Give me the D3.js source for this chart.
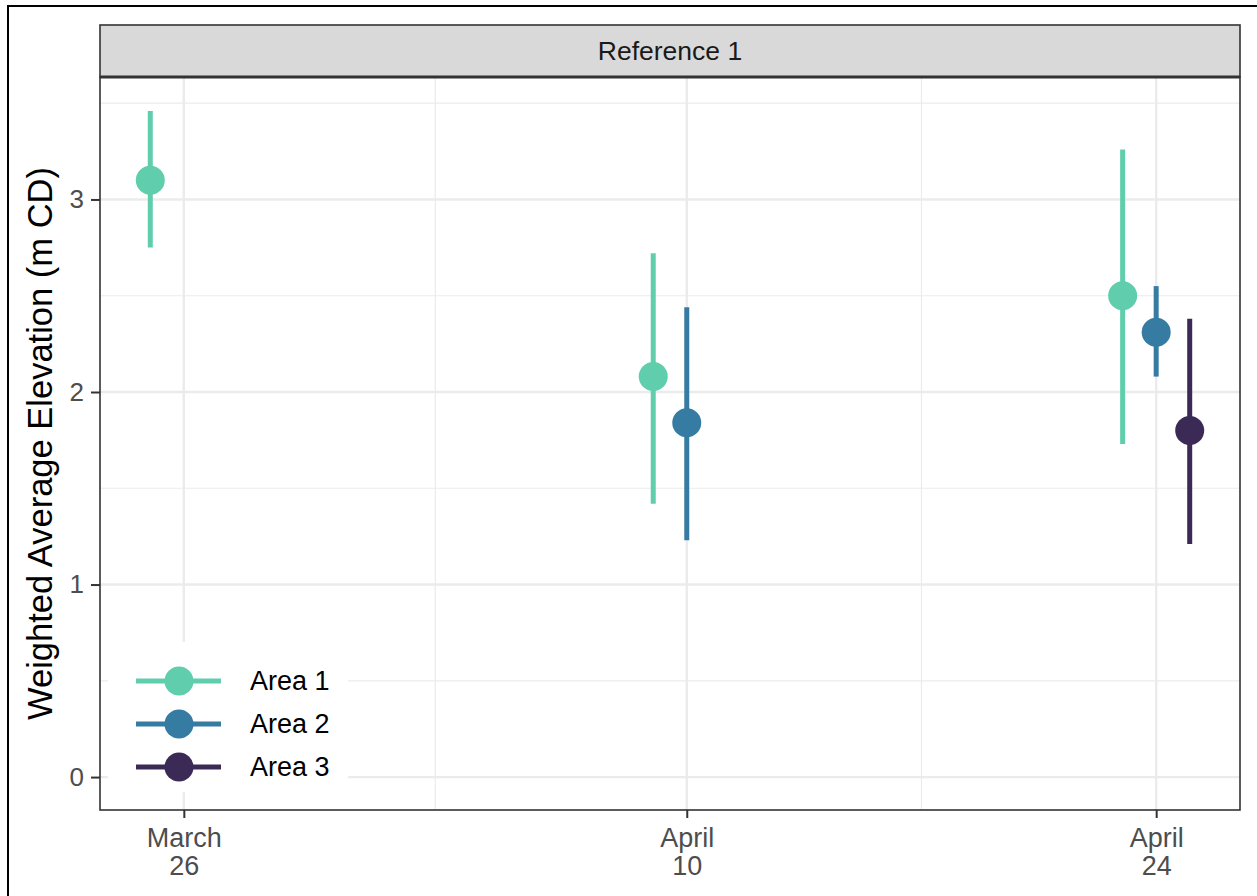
<!DOCTYPE html>
<html>
<head>
<meta charset="utf-8">
<script src="https://cdn.jsdelivr.net/npm/d3@7"></script>
<style>
  body { margin: 0; background: #fff; }
  svg { display: block; font-family: "Liberation Sans", Arial, sans-serif; }
</style>
</head>
<body>
<svg id="chart" width="1257" height="896"></svg>
<script>
"use strict";

// survey dates and tick labels
const dates = ["2021-03-26", "2021-04-10", "2021-04-24"];
const dateLabels = [["March", "26"], ["April", "10"], ["April", "24"]];
const areas = ["Area 1", "Area 2", "Area 3"];
const areaColors = ["#60CEAC", "#357BA2", "#3B2A55"];

// weighted average elevation (m CD) with lower / upper bounds, per area
const area1Mean = [3.10, 2.08, 2.50];
const area1Low = [2.75, 1.42, 1.73];
const area1High = [3.46, 2.72, 3.26];

const area2Mean = [null, 1.84, 2.31];
const area2Low = [null, 1.23, 2.08];
const area2High = [null, 2.44, 2.55];

const area3Mean = [null, null, 1.80];
const area3Low = [null, null, 1.21];
const area3High = [null, null, 2.38];

const yTicks = [0, 1, 2, 3];
const yMinor = [0.5, 1.5, 2.5, 3.5];

const parseDay = d3.timeParse("%Y-%m-%d");

const series = [
    { mean: area1Mean, low: area1Low, high: area1High },
    { mean: area2Mean, low: area2Low, high: area2High },
    { mean: area3Mean, low: area3Low, high: area3High }
];

// flatten into rows, dodging each area by one day
const rows = [];
series.forEach(function (s, k) {
    dates.forEach(function (d, i) {
        if (s.mean[i] == null) { return; }
        rows.push({
            area: k,
            date: d3.timeDay.offset(parseDay(d), k - 1),
            mean: s.mean[i],
            low: s.low[i],
            high: s.high[i]
        });
    });
});

const svg = d3.select("#chart");

const panel = { left: 100, right: 1240, top: 77, bottom: 810 };

const x = d3.scaleTime()
    .domain([d3.timeHour.offset(parseDay("2021-03-23"), 12), d3.timeHour.offset(parseDay("2021-04-26"), 12)])
    .range([panel.left, panel.right]);

const y = d3.scaleLinear()
    .domain([-0.171, 3.636])
    .range([panel.bottom, panel.top]);

const tickDates = dates.map(parseDay);
const minorDates = d3.pairs(tickDates).map(function (p) {
    return new Date((p[0].getTime() + p[1].getTime()) / 2);
});

// outer frame
svg.append("rect")
    .attr("x", 8).attr("y", 6)
    .attr("width", 1260).attr("height", 900)
    .attr("fill", "none")
    .attr("stroke", "#000")
    .attr("stroke-width", 2);

// grid
const grid = svg.append("g");
grid.selectAll(".minorY").data(yMinor).enter().append("line")
    .attr("x1", panel.left).attr("x2", panel.right)
    .attr("y1", d => y(d)).attr("y2", d => y(d))
    .attr("stroke", "#EBEBEB").attr("stroke-width", 1.2);
grid.selectAll(".minorX").data(minorDates).enter().append("line")
    .attr("x1", d => x(d)).attr("x2", d => x(d))
    .attr("y1", panel.top).attr("y2", panel.bottom)
    .attr("stroke", "#EBEBEB").attr("stroke-width", 1.2);
grid.selectAll(".majorY").data(yTicks).enter().append("line")
    .attr("x1", panel.left).attr("x2", panel.right)
    .attr("y1", d => y(d)).attr("y2", d => y(d))
    .attr("stroke", "#EBEBEB").attr("stroke-width", 2.4);
grid.selectAll(".majorX").data(tickDates).enter().append("line")
    .attr("x1", d => x(d)).attr("x2", d => x(d))
    .attr("y1", panel.top).attr("y2", panel.bottom)
    .attr("stroke", "#EBEBEB").attr("stroke-width", 2.4);

// error bars and points
const marks = svg.append("g");
marks.selectAll(".bar").data(rows).enter().append("line")
    .attr("x1", d => x(d.date)).attr("x2", d => x(d.date))
    .attr("y1", d => y(d.low)).attr("y2", d => y(d.high))
    .attr("stroke", d => areaColors[d.area])
    .attr("stroke-width", 5);
marks.selectAll(".pt").data(rows).enter().append("circle")
    .attr("cx", d => x(d.date)).attr("cy", d => y(d.mean))
    .attr("r", 14.5)
    .attr("fill", d => areaColors[d.area]);

// legend
const legend = svg.append("g");
legend.append("rect")
    .attr("x", 108).attr("y", 642)
    .attr("width", 240).attr("height", 150)
    .attr("fill", "#fff");
const item = legend.selectAll(".item").data(areas).enter().append("g")
    .attr("transform", (d, i) => "translate(0," + (681 + i * 43) + ")");
item.append("line")
    .attr("x1", 136).attr("x2", 221)
    .attr("stroke", (d, i) => areaColors[i])
    .attr("stroke-width", 5);
item.append("circle")
    .attr("cx", 179).attr("r", 14.5)
    .attr("fill", (d, i) => areaColors[i]);
item.append("text")
    .attr("x", 250).attr("dy", "0.35em")
    .attr("font-size", 27)
    .attr("fill", "#000")
    .text(d => d);

// panel border
svg.append("rect")
    .attr("x", panel.left).attr("y", panel.top)
    .attr("width", panel.right - panel.left).attr("height", panel.bottom - panel.top)
    .attr("fill", "none")
    .attr("stroke", "#333").attr("stroke-width", 1.6);

// facet strip
svg.append("rect")
    .attr("x", panel.left).attr("y", 25)
    .attr("width", panel.right - panel.left).attr("height", panel.top - 25)
    .attr("fill", "#D9D9D9")
    .attr("stroke", "#333").attr("stroke-width", 1.6);
svg.append("line")
    .attr("x1", panel.left).attr("x2", panel.right)
    .attr("y1", panel.top).attr("y2", panel.top)
    .attr("stroke", "#333").attr("stroke-width", 3);
svg.append("text")
    .attr("x", (panel.left + panel.right) / 2).attr("y", 51)
    .attr("dy", "0.35em")
    .attr("text-anchor", "middle")
    .attr("font-size", 26.5)
    .attr("fill", "#1A1A1A")
    .text("Reference 1");

// y axis
const yAxis = svg.append("g")
    .attr("transform", "translate(" + panel.left + ",0)")
    .call(d3.axisLeft(y).tickValues(yTicks).tickSize(9).tickPadding(7).tickFormat(d3.format("d")));
yAxis.select(".domain").remove();
yAxis.selectAll(".tick line").attr("stroke", "#333").attr("stroke-width", 2);
yAxis.selectAll(".tick text")
    .attr("font-size", 26)
    .attr("font-family", "Liberation Sans, Arial, sans-serif")
    .attr("fill", "#4D4D4D");

// x axis with two-line labels
const xAxis = svg.append("g")
    .attr("transform", "translate(0," + panel.bottom + ")")
    .call(d3.axisBottom(x).tickValues(tickDates).tickSize(8).tickFormat(""));
xAxis.select(".domain").remove();
xAxis.selectAll(".tick line").attr("stroke", "#333").attr("stroke-width", 2);
xAxis.selectAll(".tick").each(function (d, i) {
    const t = d3.select(this).append("text")
        .attr("text-anchor", "middle")
        .attr("font-size", 27)
        .attr("font-family", "Liberation Sans, Arial, sans-serif")
        .attr("fill", "#4D4D4D");
    dateLabels[i].forEach(function (s, j) {
        t.append("tspan").attr("x", 0).attr("y", 37 + j * 28).text(s);
    });
});

// y axis title
svg.append("text")
    .attr("transform", "translate(52," + ((panel.top + panel.bottom) / 2) + ") rotate(-90)")
    .attr("text-anchor", "middle")
    .attr("font-size", 34.5)
    .attr("fill", "#000")
    .text("Weighted Average Elevation (m CD)");
</script>
</body>
</html>
